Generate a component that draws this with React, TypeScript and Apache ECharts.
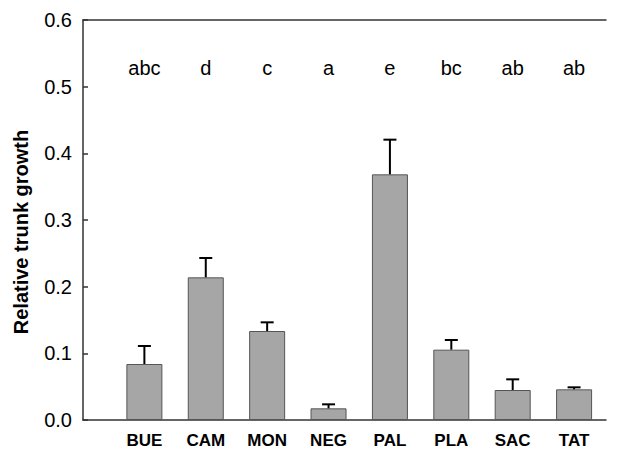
import React, { useEffect, useRef } from "react";
import * as echarts from "echarts";

const categories = ["BUE", "CAM", "MON", "NEG", "PAL", "PLA", "SAC", "TAT"];
const means = [0.084, 0.214, 0.1335, 0.0175, 0.3685, 0.1055, 0.045, 0.046];
const upperErr = [0.111, 0.243, 0.1465, 0.0235, 0.4205, 0.12, 0.061, 0.049];
const letters = ["abc", "d", "c", "a", "e", "bc", "ab", "ab"];
const letterY = 0.528;
const yTicks = [0, 0.1, 0.2, 0.3, 0.4, 0.5, 0.6];

const FONT = "'Liberation Sans', Arial, sans-serif";
const X_MIN = -1;
const X_MAX = 7.52;

export default function App() {
  const ref = useRef<HTMLDivElement>(null);
  useEffect(() => {
    if (!ref.current) return;
    const chart = echarts.init(ref.current, undefined, { renderer: "svg" });
    chart.setOption({
      animation: false,
      textStyle: { fontFamily: FONT },
      grid: { left: 83, right: 30, top: 20, bottom: 32, containLabel: false },
      xAxis: [
        {
          type: "value",
          min: X_MIN,
          max: X_MAX,
          interval: 1,
          axisLine: { show: true, onZero: false, lineStyle: { color: "#333", width: 1.5 } },
          axisTick: { show: false },
          splitLine: { show: false },
          axisLabel: {
            formatter: (v: number) => (Number.isInteger(v) && categories[v]) || "",
            fontSize: 17,
            fontWeight: "bold",
            color: "#000",
            fontFamily: FONT,
            margin: 12,
            showMaxLabel: false,
          },
        },
        {
          type: "value",
          position: "top",
          min: X_MIN,
          max: X_MAX,
          axisLine: { show: true, onZero: false, lineStyle: { color: "#333", width: 1.5 } },
          axisTick: { show: false },
          splitLine: { show: false },
          axisLabel: { show: false },
        },
      ],
      yAxis: {
        type: "value",
        min: yTicks[0],
        max: yTicks[yTicks.length - 1],
        interval: 0.1,
        name: "Relative trunk growth",
        nameLocation: "middle",
        nameGap: 52,
        nameTextStyle: {
          fontSize: 20,
          fontWeight: "bold",
          color: "#000",
          fontFamily: FONT,
          padding: [0, 24, 0, 0],
        },
        axisLine: { show: true, onZero: false, lineStyle: { color: "#333", width: 1.5 } },
        axisTick: { show: true, inside: true, length: 5, lineStyle: { color: "#333", width: 1.5 } },
        splitLine: { show: false },
        axisLabel: {
          formatter: (v: number) => v.toFixed(1),
          fontSize: 20,
          color: "#000",
          fontFamily: FONT,
          margin: 11,
        },
      },
      series: [
        {
          type: "bar",
          data: means.map((v, i) => [i, v]),
          barWidth: 36,
          itemStyle: { color: "#a6a6a6", borderColor: "#555", borderWidth: 1 },
          z: 2,
        },
        {
          type: "custom",
          data: upperErr.map((v, i) => [i, means[i], v]),
          renderItem: (params: any, api: any) => {
            const x = api.value(0);
            const base = api.coord([x, api.value(1)]);
            const top = api.coord([x, api.value(2)]);
            const half = 6.5;
            return {
              type: "group",
              children: [
                {
                  type: "line",
                  shape: { x1: base[0], y1: base[1], x2: top[0], y2: top[1] },
                  style: { stroke: "#000", lineWidth: 2 },
                },
                {
                  type: "line",
                  shape: { x1: top[0] - half, y1: top[1], x2: top[0] + half, y2: top[1] },
                  style: { stroke: "#000", lineWidth: 2 },
                },
              ],
            };
          },
          z: 3,
        },
        {
          type: "scatter",
          data: letters.map((_, i) => [i, letterY]),
          symbolSize: 0,
          itemStyle: { opacity: 1 },
          label: {
            show: true,
            position: "inside",
            formatter: (p: any) => letters[p.dataIndex],
            fontSize: 20,
            color: "#000",
            opacity: 1,
            fontFamily: FONT,
          },
        },
      ],
    });
    return () => chart.dispose();
  }, []);
  return (
    <div
      ref={ref}
      style={{ position: "fixed", left: 0, top: 0, width: 636, height: 452, background: "#fff" }}
    />
  );
}
